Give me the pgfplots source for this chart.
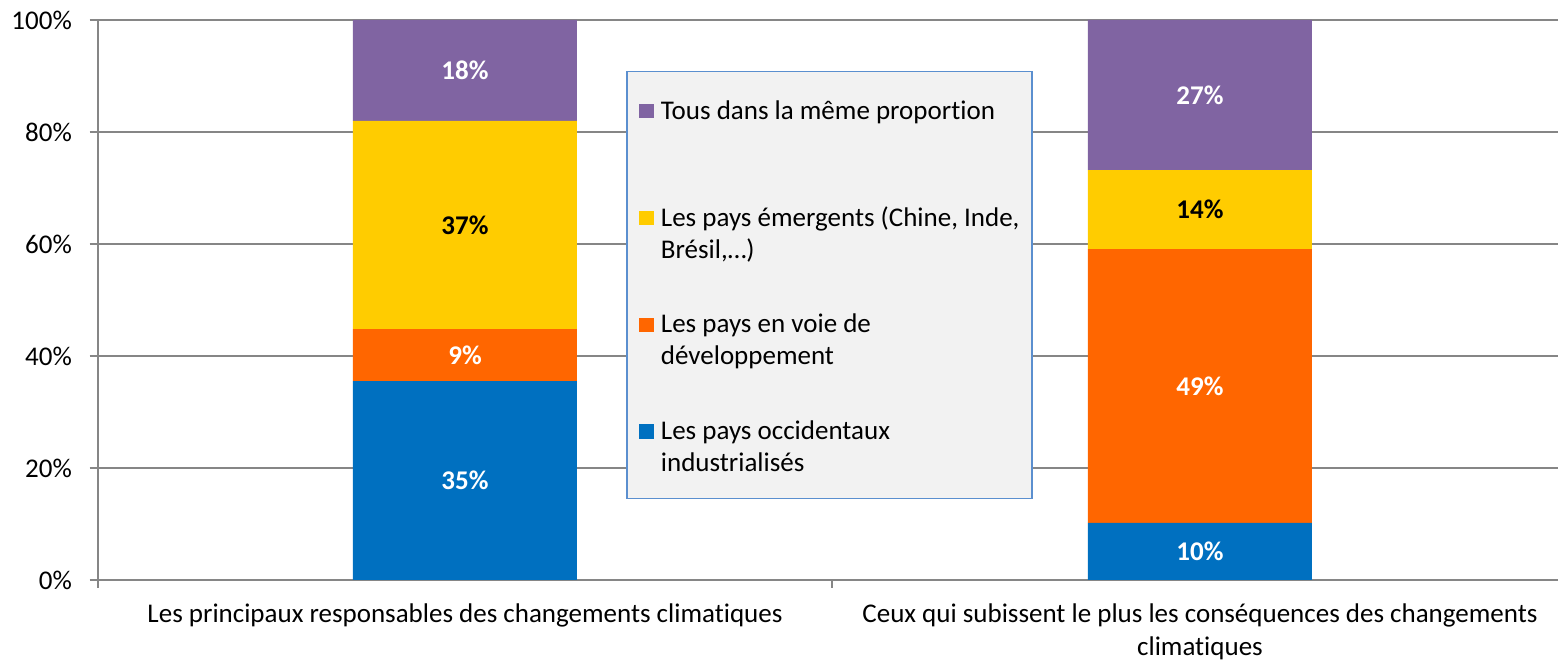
\documentclass[border=0pt]{standalone}
\usepackage{fontspec}
\setmainfont{Carlito}[Ligatures=NoCommon]
\usepackage{pgfplots}
\pgfplotsset{compat=1.18}
\definecolor{cblue}{HTML}{0070C0}
\definecolor{corange}{HTML}{FF6600}
\definecolor{cyellow}{HTML}{FFCC00}
\definecolor{cpurple}{HTML}{8064A2}
\definecolor{cgrid}{HTML}{868686}
\definecolor{lgfill}{HTML}{F2F2F2}
\definecolor{lgdraw}{HTML}{5B8FCF}
\newcommand{\LE}[2]{\begin{tabular}[b]{@{}l@{}}\makebox[359pt][l]{#1}\\\mbox{}#2\end{tabular}}
\begin{document}
\begin{tikzpicture}
\useasboundingbox (0,0) rectangle (1558pt,661pt);
\begin{axis}[
  at={(97.5pt,81pt)}, anchor=south west,
  scale only axis, width=1470pt, height=560pt,
  xmin=-0.5, xmax=1.5, ymin=0, ymax=100,
  ybar stacked, bar width=224pt,
  axis x line*=bottom, axis y line*=left,
  axis line style={cgrid, line width=2pt},
  ymajorgrids, grid style={cgrid, line width=2pt},
  ytick={0,20,...,100}, yticklabels={0\%,20\%,40\%,60\%,80\%,100\%},
  yticklabel style={font=\fontsize{27}{32}\selectfont, inner sep=0pt, xshift=-17.5pt},
  tick align=outside,
  major tick length=8pt,
  tick style={cgrid, line width=2pt},
  xtick={-0.5,0.5,1.5}, xticklabels={},
  extra x ticks={0,1},
  extra x tick labels={Les principaux responsables des changements climatiques, {Ceux qui subissent le plus les conséquences des changements\\climatiques}},
  extra x tick style={grid=none, major tick length=0pt, xtick style={draw=none},
    xticklabel style={align=center, font=\fontsize{27}{33}\selectfont, inner sep=0pt, yshift=-24pt}},
  reverse legend,
  legend image code/.code={\fill[#1] (0pt,33pt) rectangle (14.4pt,47.4pt); \path (0pt,32pt) (21.7pt,32pt);},
  legend style={at={(0.35986,0.90893)}, anchor=north west, fill=lgfill, draw=lgdraw, line width=1.5pt,
    inner xsep=12pt, inner ysep=25pt, row sep=51pt, column sep=0pt,
    font=\fontsize{27}{32}\selectfont, nodes={inner sep=0pt, anchor=base west}},
]
\addplot[fill=cblue, draw=none] coordinates {(0,35.5) (1,10.2)};
\addlegendentry{\LE{Les pays occidentaux}{industrialisés}}
\addplot[fill=corange, draw=none] coordinates {(0,9.3) (1,48.9)};
\addlegendentry{\LE{Les pays en voie de}{développement}}
\addplot[fill=cyellow, draw=none] coordinates {(0,37.2) (1,14.1)};
\addlegendentry{\LE{Les pays émergents (Chine, Inde,}{Brésil,…)}}
\addplot[fill=cpurple, draw=none] coordinates {(0,18.0) (1,26.8)};
\addlegendentry{\LE{Tous dans la même proportion}{}}
\end{axis}
\begin{axis}[
  at={(97.5pt,81pt)}, anchor=south west,
  scale only axis, width=1470pt, height=560pt,
  xmin=-0.5, xmax=1.5, ymin=0, ymax=100,
  hide axis, clip=false,
]
\addplot[draw=none, mark=none, nodes near coords={\pgfplotspointmeta\%}, point meta=explicit symbolic,
  nodes near coords style={anchor=center, font=\bfseries\fontsize{27}{32}\selectfont, text=white, inner sep=0pt}]
  table[meta=label] {
x y label
0 17.75 35
0 40.15 9
0 91.0 18
1 5.1 10
1 34.65 49
1 86.6 27
};
\addplot[draw=none, mark=none, nodes near coords={\pgfplotspointmeta\%}, point meta=explicit symbolic,
  nodes near coords style={anchor=center, font=\bfseries\fontsize{27}{32}\selectfont, text=black, inner sep=0pt}]
  table[meta=label] {
x y label
0 63.4 37
1 66.15 14
};
\end{axis}
\end{tikzpicture}
\end{document}
